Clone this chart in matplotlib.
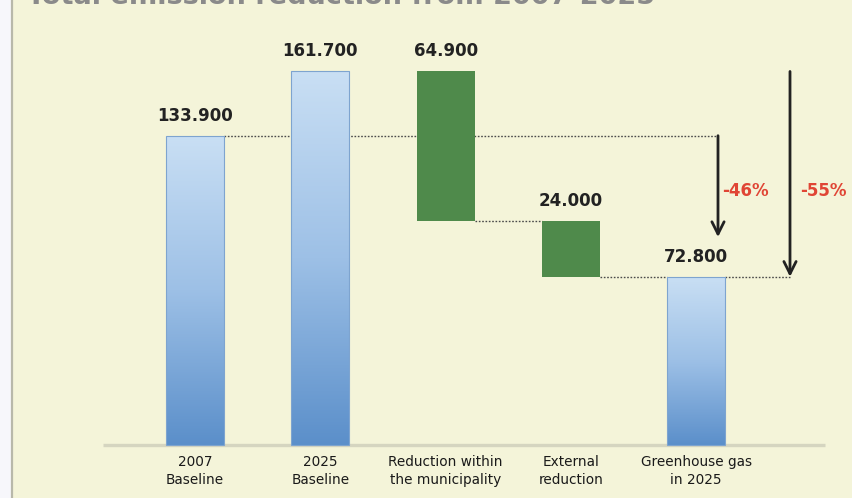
import numpy as np
import matplotlib
matplotlib.use("Agg")
import matplotlib.pyplot as plt
from matplotlib.patches import Rectangle
from matplotlib.lines import Line2D
from matplotlib.colors import LinearSegmentedColormap

# Waterfall data (thousand tonnes CO2e)
categories = ["2007\nBaseline", "2025\nBaseline", "Reduction within\nthe municipality",
              "External\nreduction", "Greenhouse gas\nin 2025"]
baseline_2007 = 133.9
baseline_2025 = 161.7
reduction_local = 64.9
reduction_external = 24.0
emissions_2025 = 72.8
value_labels = ["133.900", "161.700", "64.900", "24.000", "72.800"]
pct_vs_2007 = "-46%"
pct_vs_2025 = "-55%"

CREAM = "#f4f4d9"
GREEN = "#4f8a4b"
blue_grad = LinearSegmentedColormap.from_list("bluebar", ["#5b8fca", "#9dc0e6", "#c9dff4"])

fig = plt.figure(figsize=(8.52, 4.98), dpi=100)
fig.patch.set_facecolor("#f7f7fb")
fig.add_artist(Rectangle((13 / 852, 0), 1, 1, transform=fig.transFigure,
                         facecolor=CREAM, edgecolor="none", zorder=0))
fig.add_artist(Line2D([11.5 / 852, 11.5 / 852], [0, 1], transform=fig.transFigure,
                      color="#b8b8aa", lw=1.6, zorder=1))
fig.text(27 / 852, 1 - 4 / 498, "Total emission reduction from 2007-2025",
         fontsize=19.5, fontweight="bold", color="#8a8a8a", va="baseline", ha="left")

ax = fig.add_axes([0, 0, 1, 1])
ax.set_facecolor("none")
ax.set_xlim(-195 / 125.3, (852 - 195) / 125.3)
ax.set_ylim(-53 / 2.31, 445 / 2.31)
ax.axis("off")

x = np.arange(len(categories))
w = 0.463

starts = [0, 0, baseline_2025 - reduction_local,
          baseline_2025 - reduction_local - reduction_external, 0]
heights = [baseline_2007, baseline_2025, reduction_local, reduction_external, emissions_2025]
kinds = ["total", "total", "step", "step", "total"]

grad = np.linspace(0, 1, 256).reshape(-1, 1)
tops = []
for xi, b, h, k in zip(x, starts, heights, kinds):
    if k == "total":
        bar = ax.bar(xi, h, bottom=b, width=w, facecolor="none",
                     edgecolor="#7ea4cf", lw=0.8, zorder=3)[0]
        img = ax.imshow(grad, cmap=blue_grad, aspect="auto", origin="lower",
                        extent=(bar.get_x(), bar.get_x() + bar.get_width(), b, b + h),
                        zorder=2)
        img.set_clip_path(bar)
    else:
        ax.bar(xi, h, bottom=b, width=w, color=GREEN, edgecolor="none", zorder=3)
    tops.append(b + h)

for xi, top, lab in zip(x, tops, value_labels):
    ax.annotate(lab, (xi, top), xytext=(0, 8), textcoords="offset points",
                ha="center", va="bottom", fontsize=12, fontweight="bold", color="#222222",
                zorder=5)

for xi, lab in zip(x, categories):
    ax.text(xi, -4.5, lab, ha="center", va="top", fontsize=9.8, color="#1a1a1a",
            linespacing=1.35)

# axis baseline
ax.plot([-0.734, 5.028], [0, 0], color="#d5d5c0", lw=2.4, zorder=1, solid_capstyle="butt")

# dotted connectors
arrow1_x = (718 - 195) / 125.3
arrow2_x = (790 - 195) / 125.3
dot = dict(color="#4a4a4a", lw=1.0, ls=(0, (1.2, 1.2)), zorder=1)
ax.plot([x[0] + w / 2, arrow1_x], [baseline_2007, baseline_2007], **dot)
ax.plot([x[2] + w / 2, x[3] - w / 2], [starts[2], starts[2]], **dot)
ax.plot([x[3] + w / 2, x[4] - w / 2], [emissions_2025, emissions_2025], **dot)
ax.plot([x[4] + w / 2, arrow2_x], [emissions_2025, emissions_2025], **dot)

# reduction arrows
arrow_props = dict(arrowstyle="->", color="#222222", lw=2, mutation_scale=22,
                   shrinkA=0, shrinkB=0)
ax.annotate("", xy=(arrow1_x, 90), xytext=(arrow1_x, baseline_2007),
            arrowprops=arrow_props, zorder=4)
ax.annotate("", xy=(arrow2_x, emissions_2025), xytext=(arrow2_x, baseline_2025),
            arrowprops=arrow_props, zorder=4)

ax.text((745 - 195) / 125.3, 110, pct_vs_2007, ha="center", va="center",
        fontsize=12, fontweight="bold", color="#e04535")
ax.text((823 - 195) / 125.3, 110, pct_vs_2025, ha="center", va="center",
        fontsize=12, fontweight="bold", color="#e04535")

fig.savefig("out.png", dpi=100)
